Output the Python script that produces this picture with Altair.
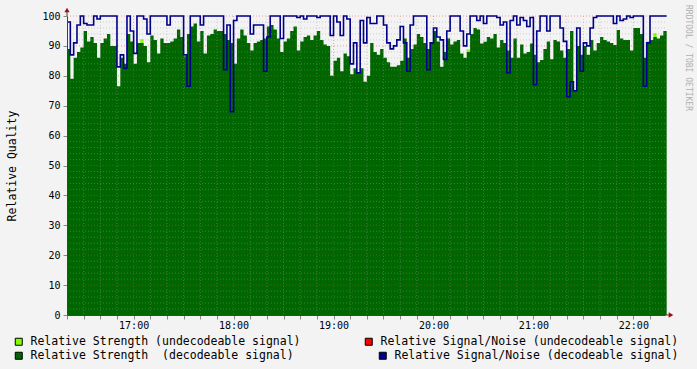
import altair as alt
import pandas as pd

# ---- time axis (minutes after 16:00), 2-minute RRD steps ----
start_min = 20          # 16:20
step_min = 2
domain_end = 379        # ~22:19

# Relative Strength (decodeable signal), one value per 2-minute step from 16:20
strength_decodeable = [
    89, 79, 86, 88, 89.5, 95, 91.5, 93, 91, 86,
    91, 92.5, 94, 90, 90, 76.5, 86, 84, 94, 91.5,
    84, 91, 91, 90, 84.5, 93.5, 92, 87.5, 92.5, 91,
    91, 91.5, 92.5, 95.5, 93, 86.5, 94, 96.5, 97.5, 91.5,
    95, 87.5, 93.5, 94, 95.5, 95, 95, 94, 92, 91,
    84, 92.5, 95.5, 93.5, 91, 88.5, 91, 91.5, 92, 92.5,
    96.5, 97, 95.5, 92.5, 88, 91.5, 92.5, 95, 96.5, 88.5,
    91.5, 93, 93.5, 92, 93.5, 95, 92, 90.5, 90, 80,
    85, 86, 81.5, 87.5, 86.5, 80.5, 82.5, 81, 82.5, 78,
    80, 91, 88, 87, 89, 86, 84.5, 83, 83, 83.5,
    85, 92.5, 86, 89, 90.5, 94, 93, 91, 89, 91,
    95, 91.5, 83, 88, 92.5, 90.5, 91.5, 92, 87.5, 86,
    88, 94, 96, 95.5, 90.8, 91.4, 93, 92.5, 94, 89.5,
    92, 91, 88.5, 86, 92.5, 86, 90.5, 87.5, 88, 90.8,
    87, 84.5, 85.3, 89, 91.5, 85.5, 92, 91.5, 88.5, 86,
    89, 95, 75, 90, 87, 90, 87, 92, 88.5, 91,
    93, 92, 91.5, 91, 90.3, 95.3, 92.5, 92, 92, 88.5,
    96, 96, 94, 86, 91.4, 92, 93, 92.5, 93.5, 95,
]

# Relative Signal/Noise (decodeable signal)
snr_decodeable = [
    98, 87, 91, 97, 100, 97.5, 97, 97, 100, 99,
    100, 100, 100, 100, 100, 83, 87, 82.5, 100, 95,
    87.5, 100, 100, 99, 94, 100, 100, 100, 100, 100,
    97, 100, 100, 100, 100, 87, 76.5, 100, 100, 100,
    97, 100, 100, 100, 100, 100, 100, 82, 97, 68,
    98.5, 100, 100, 100, 100, 94, 97, 97, 97, 81.5,
    93, 100, 100, 100, 92.5, 100, 100, 100, 100, 99.5,
    100, 99, 100, 100, 100, 99.5, 100, 100, 100, 93.5,
    100, 98, 93.5, 100, 99, 84, 91, 81, 98.5, 91,
    99.5, 97.5, 97.5, 100, 100, 97, 91, 89, 90, 92,
    96.5, 91, 81.5, 97, 100, 100, 100, 100, 82, 91,
    96, 93, 92, 85.5, 95, 100, 100, 100, 95, 90,
    94, 100, 100, 98.5, 100, 97.5, 100, 100, 100, 99.5,
    97, 98, 81, 98.5, 100, 97, 99.5, 98.5, 96.5, 99.5,
    77, 95, 100, 100, 95, 100, 100, 100, 96, 91.5,
    73, 78, 75, 96, 81.5, 91, 90, 96, 99.5, 100,
    100, 100, 100, 100, 97.5, 100, 98.5, 99, 100, 99.5,
    100, 100, 100, 76.5, 91, 100, 100, 100, 100, 100,
]

# Relative Strength (undecodeable signal): only a few tiny tips visible
undecodeable_minutes = [64, 260, 372]
strength_undecodeable = [92.2, 88.8, 94.2]

# axis / grid values
x_tick_values = list(range(20, 380, 10))
hour_values = [60, 120, 180, 240, 300, 360]
minor_x_grid = [m for m in range(30, 380, 10) if m % 60 != 0]
y_major = list(range(0, 101, 10))
y_major_grid = list(range(10, 101, 10))
y_minor_grid = [v for v in range(2, 100, 2) if v % 10 != 0]

legend_labels = [
    "Relative Strength (undecodeable signal)",
    "Relative Strength\u00a0\u00a0(decodeable signal)",
    "Relative Signal/Noise (undecodeable signal)",
    "Relative Signal/Noise (decodeable signal)",
]
legend_colors = ["#80ff00", "#006600", "#ff0000", "#00008b"]

# ---- tables ----
n = len(strength_decodeable)
times = [start_min + step_min * i for i in range(n + 1)]
df = pd.DataFrame({
    "t": times,
    "strength": strength_decodeable + [strength_decodeable[-1]],
    "snr": snr_decodeable + [snr_decodeable[-1]],
})
df_lg = pd.DataFrame({
    "t": undecodeable_minutes,
    "t2": [m + step_min for m in undecodeable_minutes],
    "v": strength_undecodeable,
})

FONT = "DejaVu Sans Mono"
AXIS_COL = "#404040"
xs = alt.Scale(domain=[start_min, domain_end], nice=False, zero=False)
ys = alt.Scale(domain=[0, 100], nice=False, zero=True)

x_axis = alt.Axis(
    values=x_tick_values,
    labelExpr="datum.value % 60 == 0 ? (16 + datum.value / 60) + ':00' : ''",
    grid=False, tickSize=4, tickColor="#888888", domainColor=AXIS_COL,
    labelFont=FONT, labelFontSize=10, labelColor="#000000", labelPadding=1,
    labelFlush=False, labelOverlap=False, title=None, zindex=1,
)
y_axis = alt.Axis(
    values=y_major, grid=False, tickSize=4, tickColor="#888888",
    domainColor=AXIS_COL, labelFont=FONT, labelFontSize=10,
    labelColor="#000000", labelPadding=3,
    title="Relative Quality", titleFont=FONT, titleFontSize=11.5,
    titleFontWeight="normal", titleColor="#000000", titlePadding=24, zindex=1,
)


def X(field):
    return alt.X(field, scale=xs, axis=x_axis)


def Y(field):
    return alt.Y(field, scale=ys, axis=y_axis)


light = alt.Chart(df_lg).mark_rect(color="#80ff00").encode(
    x=X("t:Q"), x2="t2:Q", y=Y("v:Q"), y2=alt.datum(0),
)

area = alt.Chart(df).mark_area(interpolate="step-after", color="#006600").encode(
    x=X("t:Q"), y=Y("strength:Q"),
)

gx_minor = alt.Chart(pd.DataFrame({"t": minor_x_grid})).mark_rule(
    color="#9a9a9a", strokeDash=[1, 2], opacity=0.42, strokeWidth=1
).encode(x=X("t:Q"))
gx_major = alt.Chart(pd.DataFrame({"t": hour_values})).mark_rule(
    color="#ff3030", strokeDash=[1, 2], opacity=0.45, strokeWidth=1
).encode(x=X("t:Q"))
gy_minor = alt.Chart(pd.DataFrame({"strength": y_minor_grid})).mark_rule(
    color="#9a9a9a", strokeDash=[1, 2], opacity=0.42, strokeWidth=1
).encode(y=Y("strength:Q"))
gy_major = alt.Chart(pd.DataFrame({"strength": y_major_grid})).mark_rule(
    color="#ff3030", strokeDash=[1, 2], opacity=0.45, strokeWidth=1
).encode(y=Y("strength:Q"))

line = alt.Chart(df).mark_line(
    interpolate="step-after", color="#00008b", strokeWidth=1.6
).encode(x=X("t:Q"), y=Y("snr:Q"))

one = pd.DataFrame({"a": [0]})
y_ext = alt.Chart(one).mark_rule(color=AXIS_COL, y2Offset=-6).encode(
    x=alt.datum(start_min, scale=xs, axis=x_axis),
    y=alt.datum(100, scale=ys, axis=y_axis), y2=alt.datum(100))
x_ext = alt.Chart(one).mark_rule(color=AXIS_COL, x2Offset=6).encode(
    x=alt.datum(domain_end, scale=xs, axis=x_axis), x2=alt.datum(domain_end),
    y=alt.datum(0, scale=ys, axis=y_axis))
arrow_up = alt.Chart(one).mark_point(
    shape="triangle-up", filled=True, color="#a01010", size=28, opacity=1, yOffset=-6
).encode(x=alt.datum(start_min, scale=xs, axis=x_axis),
         y=alt.datum(100, scale=ys, axis=y_axis))
arrow_right = alt.Chart(one).mark_point(
    shape="triangle-right", filled=True, color="#a01010", size=28, opacity=1, xOffset=6
).encode(x=alt.datum(domain_end, scale=xs, axis=x_axis),
         y=alt.datum(0, scale=ys, axis=y_axis))

legend_pos = [(-54, 320), (-54, 334), (296, 320), (310, 334)]


def legend_layer(label, color, pos):
    return alt.Chart(pd.DataFrame({"series": [label]})).transform_filter(
        "datum.series == 'none'"
    ).mark_square(filled=True, opacity=1, stroke="#000000", strokeWidth=1).encode(
        color=alt.Color(
            "series:N",
            scale=alt.Scale(domain=[label], range=[color]),
            legend=alt.Legend(
                orient="none", legendX=pos[0], legendY=pos[1], title=None,
                symbolType="square", symbolSize=49, symbolStrokeColor="#000000",
                symbolStrokeWidth=1, labelFont=FONT, labelFontSize=11.5,
                labelColor="#000000", labelOffset=6, padding=0, labelLimit=400,
            ),
        )
    )


legends = [legend_layer(l, c, p) for l, c, p in zip(legend_labels, legend_colors, legend_pos)]

chart = alt.layer(
    light, area, gx_minor, gx_major, gy_minor, gy_major, line,
    y_ext, x_ext, arrow_up, arrow_right, *legends
).resolve_scale(color="independent").properties(
    width=598, height=299,
    autosize=alt.AutoSizeParams(type="none"),
    padding={"left": 67, "top": 16, "right": 32, "bottom": 54},
    background="#f3f3f3",
    title=alt.TitleParams(
        "RRDTOOL / TOBI OETIKER", orient="right", anchor="start", frame="group",
        font=FONT, fontSize=8, fontWeight="normal", color="#b0b0b0", offset=5,
        dx=-11,
    ),
).configure_view(stroke=None, fill="#ffffff")

chart.save("out.html", embed_options={"renderer": "svg", "actions": False})
